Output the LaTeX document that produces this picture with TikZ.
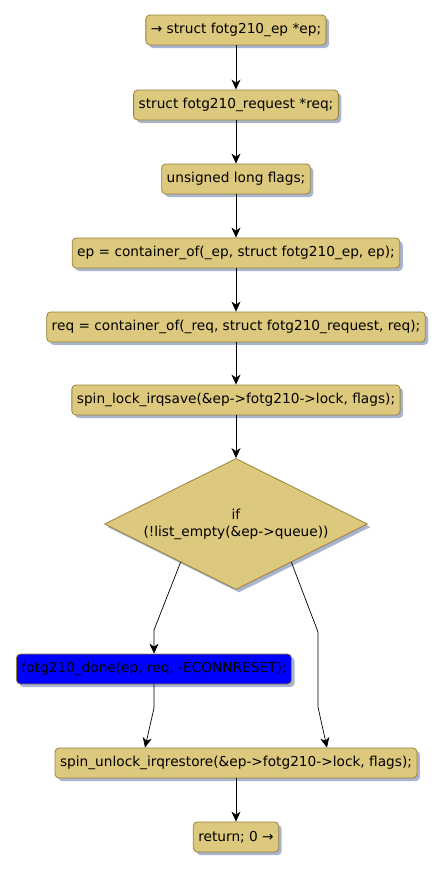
\documentclass[tikz,border=0pt]{standalone}
\usepackage{fontspec}
\setmainfont{DejaVu Sans}
\usetikzlibrary{positioning,calc,arrows.meta,shapes.geometric,shadows}
\definecolor{boxfill}{RGB}{221,201,125}
\definecolor{boxline}{RGB}{152,129,58}
\definecolor{shade}{RGB}{168,180,208}

\begin{document}
\begin{tikzpicture}[
    x=1pt, y=-1pt,
    stmt/.style={draw=boxline, fill=boxfill, line width=0.8pt, rounded corners=4pt,
      minimum height=30pt, inner xsep=5pt, inner ysep=0pt,
      font=\fontsize{13.7}{17}\selectfont,
      drop shadow={shadow xshift=3pt, shadow yshift=-3pt, fill=shade, opacity=1}},
    hot/.style={stmt, fill=blue},
    cond/.style={diamond, aspect=2, draw=boxline, fill=boxfill, line width=0.8pt,
      minimum width=263pt, minimum height=131pt, inner sep=0pt, align=center,
      font=\fontsize{13.7}{17}\selectfont,
      drop shadow={shadow xshift=3pt, shadow yshift=-3pt, fill=shade, opacity=1}},
    flow/.style={-{Stealth[length=10pt,width=9pt,inset=3pt]}, line width=0.9pt},
    branch/.style={flow, line width=0.7pt},
]
\useasboundingbox (0,0) rectangle (445,871);

\node[stmt] (ep) at (236,30) {→ struct fotg210\_ep *ep;};
\node[stmt] (req) at (236,105) {struct fotg210\_request *req;};
\node[stmt] (flags) at (236,179) {unsigned long flags;};
\node[stmt] (epcont) at (236,253) {ep = container\_of(\_ep, struct fotg210\_ep, ep);};
\node[stmt] (reqcont) at (236,327) {req = container\_of(\_req, struct fotg210\_request, req);};
\node[stmt] (lock) at (236,400) {spin\_lock\_irqsave(\&ep->fotg210->lock, flags);};
\node[cond] (empty) at (236,524) {if\\(!list\_empty(\&ep->queue))};
\node[hot] (done) at (154,669) {fotg210\_done(ep, req, -ECONNRESET);};
\node[stmt] (unlock) at (236,763) {spin\_unlock\_irqrestore(\&ep->fotg210->lock, flags);};
\node[stmt] (ret) at (236,837) {return; 0 →};

\foreach \a/\b in {ep/req, req/flags, flags/epcont, epcont/reqcont, reqcont/lock, lock/empty, unlock/ret} {
  \draw[flow] (\a.south) -- (\b.north);
}

% branches out of the if
\coordinate (lknee) at (154,630);
\coordinate (rknee) at (318,632);
\coordinate (rdrop) at (318,707);
\coordinate (dknee) at (154,708);
\draw[branch] ($(empty.west)!0.58!(empty.south)$) -- (lknee) -- (done.north);
\draw[branch] ($(empty.south)!0.42!(empty.east)$) -- (rknee) -- (rdrop) -- ([xshift=91pt]unlock.north);
\draw[branch] (done.south) -- (dknee) -- ([xshift=-91pt]unlock.north);
\end{tikzpicture}
\end{document}
